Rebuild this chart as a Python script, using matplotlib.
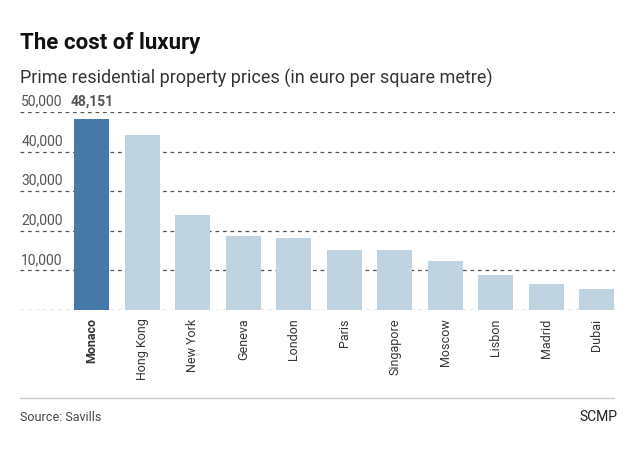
import matplotlib.pyplot as plt

cities = ["Monaco", "Hong Kong", "New York", "Geneva", "London", "Paris",
          "Singapore", "Moscow", "Lisbon", "Madrid", "Dubai"]
prices = [48151, 44200, 24000, 18600, 18300, 15200, 15200, 12300, 8800, 6700, 5400]
yticks = [0, 10000, 20000, 30000, 40000, 50000]

plt.rcParams["font.family"] = "Roboto"
fig = plt.figure(figsize=(6.4, 4.5), dpi=100)
ax = fig.add_axes([0.031, 0.311, 0.93, 0.44])

colors = ["#4479a8"] + ["#bfd3e0"] * (len(cities) - 1)
ax.bar(range(len(cities)), prices, width=0.69, color=colors, zorder=2)
ax.set_xlim(-1.426, 10.36)
ax.set_ylim(0, 50000)
for v in yticks:
    ax.axhline(v, color="#555555", lw=0.9, ls=(0, (3, 3)), zorder=1)
    if v > 0:
        ax.text(-1.40, v + 900, f"{v:,}", fontsize=10, color="#555555", va="bottom")
ax.text(0, 50900, f"{prices[0]:,}", ha="center", va="bottom",
        fontsize=10, color="#555555", fontweight="bold")

ax.set_xticks(range(len(cities)))
ax.set_xticklabels(cities, rotation=90, fontsize=9, color="#333333")
ax.get_xticklabels()[0].set_fontweight("bold")
ax.tick_params(axis="x", length=0, pad=6)
ax.set_yticks([])
for s in ax.spines.values():
    s.set_visible(False)

fig.text(0.031, 0.89, "The cost of luxury", fontsize=16, fontweight="bold", color="#111111")
fig.text(0.031, 0.815, "Prime residential property prices (in euro per square metre)",
         fontsize=13, color="#333333")
fig.add_artist(plt.Line2D([0.031, 0.96], [0.115, 0.115], color="#cccccc", lw=1))
fig.text(0.031, 0.065, "Source: Savills", fontsize=9, color="#444444")
fig.text(0.965, 0.065, "SCMP", fontsize=10, color="#222222", ha="right")

fig.savefig("out.png")
